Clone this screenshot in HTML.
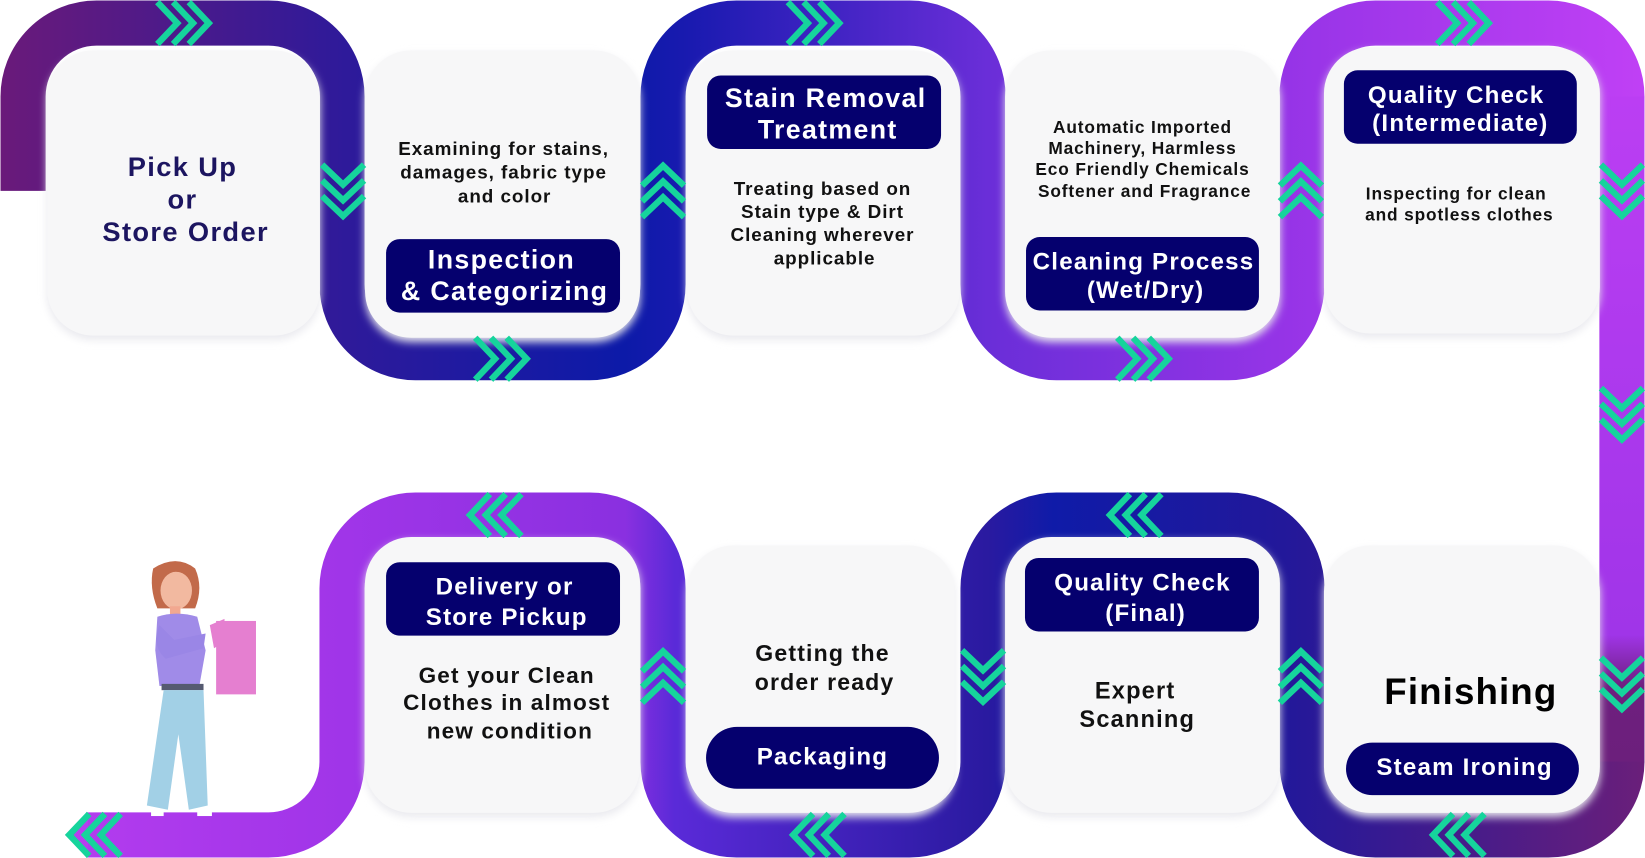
<!DOCTYPE html>
<html><head><meta charset="utf-8"><style>
html,body{margin:0;padding:0;background:#fff;}
svg{display:block;}
text{font-family:"Liberation Sans",Arial,sans-serif;font-weight:bold;letter-spacing:0.05em;}
text.big{letter-spacing:0.03em;}
</style></head><body>
<svg id="s" width="1645" height="858" viewBox="0 0 1568 818" preserveAspectRatio="none" xmlns="http://www.w3.org/2000/svg">
<defs>
<linearGradient id="gTop" gradientUnits="userSpaceOnUse" x1="0" y1="0" x2="1568" y2="0">
<stop offset="0" stop-color="#6a1a7a"/><stop offset="0.21" stop-color="#2e1a9a"/><stop offset="0.38" stop-color="#0c1aa8"/><stop offset="0.42" stop-color="#1a1ab0"/><stop offset="0.6" stop-color="#6a2ed8"/><stop offset="0.8" stop-color="#9a35e8"/><stop offset="1" stop-color="#c040f5"/>
</linearGradient>
<linearGradient id="gRight" gradientUnits="userSpaceOnUse" x1="0" y1="0" x2="0" y2="818">
<stop offset="0" stop-color="#c040f5"/><stop offset="0.74" stop-color="#a035e8"/><stop offset="0.8" stop-color="#6e1f7e"/><stop offset="1" stop-color="#6a1f7a"/>
</linearGradient>
<linearGradient id="gBot" gradientUnits="userSpaceOnUse" x1="1568" y1="0" x2="0" y2="0">
<stop offset="0" stop-color="#6a1f7a"/><stop offset="0.22" stop-color="#22189a"/><stop offset="0.36" stop-color="#0f1ba8"/><stop offset="0.4" stop-color="#2a1aa0"/><stop offset="0.59" stop-color="#5a2ad8"/><stop offset="0.62" stop-color="#8a30e0"/><stop offset="0.79" stop-color="#a035e8"/><stop offset="1" stop-color="#b83ef0"/>
</linearGradient>
<filter id="sh" x="-10%" y="-10%" width="120%" height="120%"><feGaussianBlur stdDeviation="4"/></filter>
</defs>

<g fill="none" stroke-width="43">
<path stroke="url(#gTop)" d="M22,182 V92 A70,70 0 0 1 92,22 H256 A70,70 0 0 1 326,92 V271 A70,70 0 0 0 396,341 H562 A70,70 0 0 0 632,271 V92 A70,70 0 0 1 702,22 H867 A70,70 0 0 1 937,92 V271 A70,70 0 0 0 1007,341 H1171 A70,70 0 0 0 1241,271 V92 A70,70 0 0 1 1311,22 H1476 A70,70 0 0 1 1546,92 V93"/>
<path stroke="url(#gRight)" d="M1546,92 V727"/>
<path stroke="url(#gBot)" d="M1546,726 A70,70 0 0 1 1476,796 H1311 A70,70 0 0 1 1241,726 V561 A70,70 0 0 0 1171,491 H1007 A70,70 0 0 0 937,561 V726 A70,70 0 0 1 867,796 H702 A70,70 0 0 1 632,726 V561 A70,70 0 0 0 562,491 H396 A70,70 0 0 0 326,561 V726 A70,70 0 0 1 256,796 H82"/>
<polygon points="84,774.5 62,796 84,817.5" fill="#b83ef0"/>
</g>

<g id="cards"></g>
<g id="chevs"></g>

<g fill="#05006e">
<rect x="368" y="228" width="223" height="70" rx="13"/>
<rect x="674" y="72" width="223" height="70" rx="13"/>
<rect x="978" y="226" width="222" height="70" rx="13"/>
<rect x="1281" y="67" width="222" height="70" rx="13"/>
<rect x="368" y="536" width="223" height="70" rx="13"/>
<rect x="673" y="693" width="222" height="59" rx="29.5"/>
<rect x="977" y="532" width="223" height="70" rx="13"/>
<rect x="1283" y="708" width="222" height="50" rx="25"/>
</g>

<g text-anchor="middle">
<text fill="#1c1560" font-size="26"><tspan x="174" y="168">Pick Up</tspan><tspan x="174" y="199">or</tspan><tspan x="177" y="230">Store Order</tspan></text>
<text fill="#111" font-size="18"><tspan x="480" y="148">Examining for stains,</tspan><tspan x="480" y="170">damages, fabric type</tspan><tspan x="481" y="193">and color</tspan></text>
<text fill="#fff" font-size="25.5"><tspan x="478" y="256">Inspection</tspan><tspan x="481" y="286">&amp; Categorizing</tspan></text>
<text fill="#fff" font-size="25.5"><tspan x="787" y="102">Stain Removal</tspan><tspan x="789" y="132">Treatment</tspan></text>
<text fill="#111" font-size="18"><tspan x="784" y="186">Treating based on</tspan><tspan x="784" y="208">Stain type &amp; Dirt</tspan><tspan x="784" y="230">Cleaning wherever</tspan><tspan x="786" y="252">applicable</tspan></text>
<text fill="#111" font-size="16.5"><tspan x="1089" y="127">Automatic Imported</tspan><tspan x="1089" y="147">Machinery, Harmless</tspan><tspan x="1089" y="167">Eco Friendly Chemicals</tspan><tspan x="1091" y="188">Softener and Fragrance</tspan></text>
<text fill="#fff" font-size="23"><tspan x="1090" y="257">Cleaning Process</tspan><tspan x="1092" y="284">(Wet/Dry)</tspan></text>
<text fill="#fff" font-size="23"><tspan x="1388" y="98">Quality Check</tspan><tspan x="1392" y="125">(Intermediate)</tspan></text>
<text fill="#111" font-size="16.5"><tspan x="1388" y="190">Inspecting for clean</tspan><tspan x="1391" y="210">and spotless clothes</tspan></text>
<text fill="#fff" font-size="23"><tspan x="481" y="567">Delivery or</tspan><tspan x="483" y="596">Store Pickup</tspan></text>
<text fill="#111" font-size="21.5"><tspan x="483" y="651">Get your Clean</tspan><tspan x="483" y="677">Clothes in almost</tspan><tspan x="486" y="704">new condition</tspan></text>
<text fill="#111" font-size="22"><tspan x="784" y="630">Getting the</tspan><tspan x="786" y="658">order ready</tspan></text>
<text fill="#fff" font-size="23" x="784" y="729">Packaging</text>
<text fill="#fff" font-size="23"><tspan x="1089" y="563">Quality Check</tspan><tspan x="1092" y="592">(Final)</tspan></text>
<text fill="#111" font-size="22.5"><tspan x="1082" y="666">Expert</tspan><tspan x="1084" y="693">Scanning</tspan></text>
<text class="big" fill="#000" font-size="35" x="1402" y="671">Finishing</text>
<text fill="#fff" font-size="23" x="1396" y="739">Steam Ironing</text>
</g>

<g>
<path d="M146,542 q22,-14 40,0 q8,18 0,38 l-36,0 q-8,-20 -4,-38z" fill="#c26a4a"/>
<ellipse cx="168" cy="563" rx="15" ry="18" fill="#f2b9a0"/>
<path d="M152,552 q14,-14 32,0 l0,-6 q-16,-12 -32,0z" fill="#c26a4a"/>
<rect x="162" y="578" width="10" height="8" fill="#f2a890"/>
<path d="M150,588 q18,-6 38,0 l8,32 -6,34 -38,0 -4,-34z" fill="#a08be8"/>
<path d="M152,596 q-8,20 6,32 l36,-10 2,-14 -30,6z" fill="#9a86e6"/>
<rect x="206" y="592" width="38" height="70" fill="#e57fd0"/>
<path d="M200,596 l14,-6 0,22 -10,6z" fill="#e57fd0"/>
<rect x="154" y="652" width="40" height="6" fill="#555a70"/>
<path d="M156,658 l38,0 4,110 -18,4 -10,-72 -10,72 -20,-4z" fill="#a2d0e6"/>
<rect x="144" y="772" width="12" height="6" fill="#fff"/>
<rect x="188" y="772" width="14" height="6" fill="#fff"/>
</g>

<script>
var cardRects = [
 ['card-pickup',45,48,260,272],
 ['card-inspection',348,48,262,274],
 ['card-stain-removal',655,48,260,272],
 ['card-cleaning',958,48,262,274],
 ['card-qc-intermediate',1262,45,263,273],
 ['card-delivery',348,512,262,263],
 ['card-packaging',655,520,255,255],
 ['card-qc-final',958,512,262,263],
 ['card-finishing',1262,520,263,255]
];
var NS='http://www.w3.org/2000/svg';
var cg=document.getElementById('cards');
cardRects.forEach(function(c){
  var sh=document.createElementNS(NS,'rect');
  sh.setAttribute('x',c[1]);sh.setAttribute('y',c[2]+4);sh.setAttribute('width',c[3]);sh.setAttribute('height',c[4]);
  sh.setAttribute('rx',44);sh.setAttribute('fill','#e9e9ee');sh.setAttribute('filter','url(#sh)');
  
  
  cg.appendChild(sh);
  var r=document.createElementNS(NS,'rect');
  r.setAttribute('x',c[1]);r.setAttribute('y',c[2]);r.setAttribute('width',c[3]);r.setAttribute('height',c[4]);
  r.setAttribute('rx',44);r.setAttribute('fill','#f7f7f8');
  
  
  cg.appendChild(r);
});
var chevrons = [
 [175,22,'r'],[327,182,'d'],[478,342,'r'],[632,182,'u'],[776,22,'r'],[1090,342,'r'],
 [1240,182,'u'],[1395,22,'r'],[1546,182,'d'],[1546,395,'d'],[1546,652,'d'],
 [1390,796,'l'],[780,796,'l'],[90,796,'l'],[472,491,'l'],[1082,491,'l'],
 [632,645,'u'],[937,645,'d'],[1240,645,'u']
];
var hg=document.getElementById('chevs');
chevrons.forEach(function(c){
  var g=document.createElementNS(NS,'g');
  var ang={r:0,d:90,l:180,u:270}[c[2]];
  g.setAttribute('transform','translate('+c[0]+','+c[1]+') rotate('+ang+')');
  
  
  [-15,0,15].forEach(function(o){
    var p=document.createElementNS(NS,'polyline');
    p.setAttribute('points',(o-10)+',-20 '+(o+9)+',0 '+(o-10)+',20');
    p.setAttribute('fill','none');p.setAttribute('stroke','#16d49c');p.setAttribute('stroke-width','6');
    
    
    g.appendChild(p);
  });
  hg.appendChild(g);
});
</script>
</svg>
</body></html>
